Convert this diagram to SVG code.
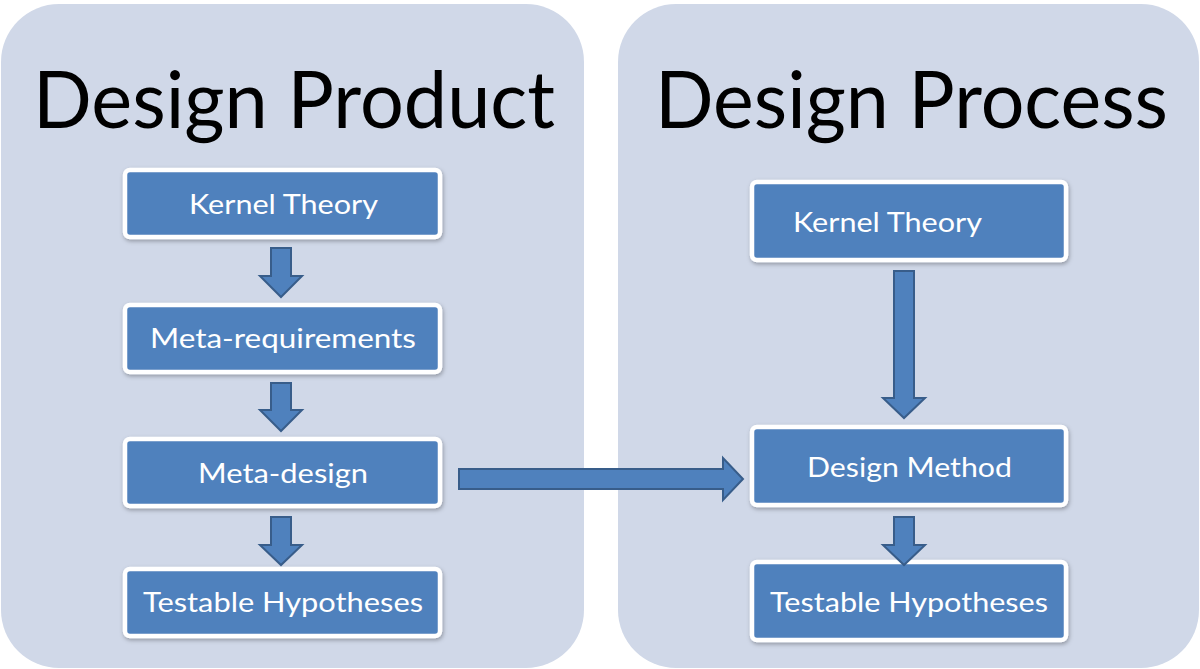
<svg xmlns="http://www.w3.org/2000/svg" width="1200" height="669" viewBox="0 0 1200 669">
  <defs>
    <filter id="shadow" x="-10%" y="-20%" width="120%" height="150%">
      <feDropShadow dx="1" dy="2" stdDeviation="2" flood-color="#000" flood-opacity="0.3"/>
    </filter>
  </defs>
  <style>
    .panel { fill: #D0D8E8; }
    .title { font-family: Lato, "Open Sans", sans-serif; font-size: 80px; fill: #000; }
    .box rect { fill: #4F81BD; stroke: #FFFFFF; stroke-width: 4.5; filter: url(#shadow); }
    .box text { font-family: Lato, "Open Sans", sans-serif; font-size: 27px; fill: #FFFFFF; }
    .arrow { fill: #4F81BD; stroke: #385D8A; stroke-width: 2; stroke-linejoin: miter; }
  </style>

  <rect width="1200" height="669" fill="#FFFFFF"/>

  <!-- panels -->
  <g id="panel-product">
    <rect class="panel" x="1" y="4" width="583" height="664" rx="58" ry="58"/>
    <text class="title" x="33" y="128" textLength="522" lengthAdjust="spacingAndGlyphs">Design Product</text>
  </g>
  <g id="panel-process">
    <rect class="panel" x="618" y="4" width="581" height="664" rx="58" ry="58"/>
    <text class="title" x="655" y="128" textLength="513" lengthAdjust="spacingAndGlyphs">Design Process</text>
  </g>

  <!-- Design Product nodes -->
  <g id="p-kernel" class="box">
    <rect x="125" y="170" width="315" height="67" rx="5"/>
    <text x="189" y="214" textLength="189" lengthAdjust="spacingAndGlyphs">Kernel Theory</text>
  </g>
  <g id="p-metareq" class="box">
    <rect x="125" y="305" width="315" height="67" rx="5"/>
    <text x="150" y="348" textLength="266" lengthAdjust="spacingAndGlyphs">Meta-requirements</text>
  </g>
  <g id="p-metadesign" class="box">
    <rect x="125" y="439" width="315" height="67" rx="5"/>
    <text x="198" y="483" textLength="170" lengthAdjust="spacingAndGlyphs">Meta-design</text>
  </g>
  <g id="p-hypotheses" class="box">
    <rect x="125" y="569" width="315" height="67" rx="5"/>
    <text x="143" y="612" textLength="280" lengthAdjust="spacingAndGlyphs">Testable Hypotheses</text>
  </g>

  <!-- Design Process nodes -->
  <g id="q-kernel" class="box">
    <rect x="752" y="182" width="314" height="78" rx="5"/>
    <text x="793" y="232" textLength="189" lengthAdjust="spacingAndGlyphs">Kernel Theory</text>
  </g>
  <g id="q-method" class="box">
    <rect x="752" y="427" width="314" height="78" rx="5"/>
    <text x="807" y="477" textLength="205" lengthAdjust="spacingAndGlyphs">Design Method</text>
  </g>
  <g id="q-hypotheses" class="box">
    <rect x="752" y="562" width="314" height="78" rx="5"/>
    <text x="770" y="612" textLength="278" lengthAdjust="spacingAndGlyphs">Testable Hypotheses</text>
  </g>

  <!-- block arrows -->
  <g id="connectors">
    <polygon class="arrow" points="271,248 291,248 291,276 302,276 281,297 260,276 271,276"/>
    <polygon class="arrow" points="271,383 291,383 291,410 302,410 281,431 260,410 271,410"/>
    <polygon class="arrow" points="271,517 291,517 291,545 302,545 281,565 260,545 271,545"/>
    <polygon class="arrow" points="459,469 723,469 723,458 743,479 723,500 723,489 459,489"/>
    <polygon class="arrow" points="894,271 914,271 914,398 925,398 904,418 883,398 894,398"/>
    <polygon class="arrow" points="894,517 914,517 914,545 925,545 904,565 883,545 894,545"/>
  </g>
</svg>
